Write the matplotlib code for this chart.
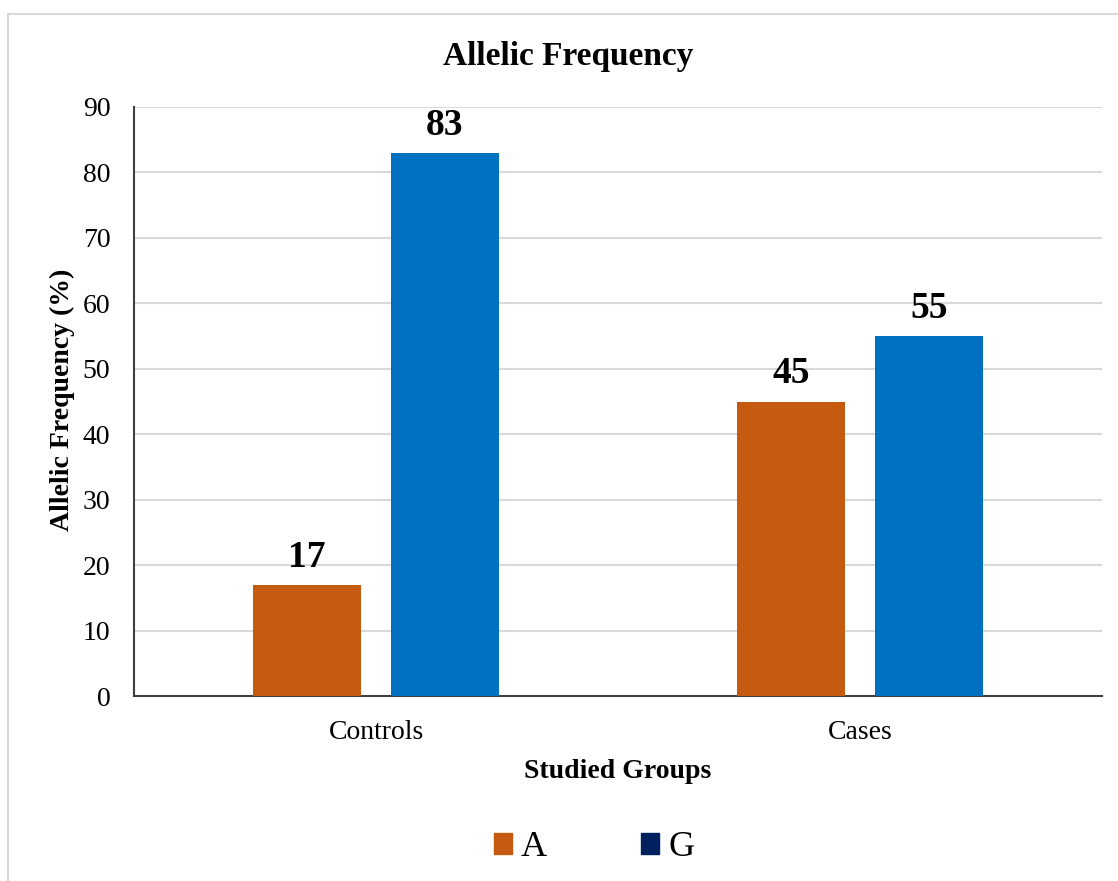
import matplotlib
matplotlib.use("Agg")
import matplotlib.pyplot as plt
import numpy as np
from matplotlib.patches import Rectangle, Patch

categories = ["Controls", "Cases"]
series_names = ["A", "G"]
values_A = [17, 45]
values_G = [83, 55]
yticks = [0, 10, 20, 30, 40, 50, 60, 70, 80, 90]

color_A = "#C55A11"
color_G = "#0070C0"
legend_G = "#002060"

plt.rcParams['font.family'] = ['Liberation Serif', 'DejaVu Serif']

W, H = 1118, 881
fig = plt.figure(figsize=(W / 100, H / 100), dpi=100)

def fx(px):
    return px / W

def fy(py):
    return 1 - py / H

# outer border
fig.patches.append(Rectangle((fx(8), fy(881 + 10)), fx(1200), fy(14) - fy(891),
                             transform=fig.transFigure, fill=False,
                             edgecolor="#D9D9D9", linewidth=1.5, zorder=0))

ax = fig.add_axes([fx(134), fy(696), fx(1102) - fx(134), fy(107) - fy(696)])

x = np.arange(len(categories))
bw = 0.223
off = 0.1425
bA = ax.bar(x - off, values_A, bw, color=color_A, zorder=3)
bG = ax.bar(x + off, values_G, bw, color=color_G, zorder=3)

for bars, vals in ((bA, values_A), (bG, values_G)):
    for b, v in zip(bars, vals):
        ax.annotate(f"{v}", (b.get_x() + b.get_width() / 2, v),
                    xytext=(0, 13), textcoords="offset points",
                    ha="center", va="baseline", fontsize=27,
                    fontweight="bold", color="black")

ax.set_xlim(-0.5, 1.5)
ax.set_ylim(0, 90)
ax.set_yticks(yticks)
ax.set_xticks(x)
ax.set_xticklabels(categories)
ax.tick_params(axis="both", length=0, labelsize=20, colors="#000000")
ax.tick_params(axis="y", pad=17)
ax.tick_params(axis="x", pad=17)
ax.yaxis.grid(True, color="#D9D9D9", linewidth=1.5, zorder=0)
ax.set_axisbelow(True)
for s in ("top", "right"):
    ax.spines[s].set_visible(False)
ax.spines["left"].set_color("#404040")
ax.spines["bottom"].set_color("#404040")
ax.spines["left"].set_linewidth(1.5)
ax.spines["bottom"].set_linewidth(1.5)

fig.text(fx(568), fy(57), "Allelic Frequency", ha="center", va="center",
         fontsize=24, fontweight="bold")
fig.text(fx(618), fy(772), "Studied Groups", ha="center", va="center",
         fontsize=20, fontweight="bold")
fig.text(fx(62), fy(400), "Allelic Frequency (%)", ha="center", va="center",
         rotation=90, fontsize=20, fontweight="bold")

handles = [Patch(color=color_A), Patch(color=legend_G)]
fig.legend(handles, series_names, loc="center", bbox_to_anchor=(fx(594), fy(848)),
           ncol=2, frameon=False, fontsize=26, handlelength=0.5, handleheight=0.5,
           handletextpad=0.25, columnspacing=2.6)

fig.savefig("out.png", dpi=100)
